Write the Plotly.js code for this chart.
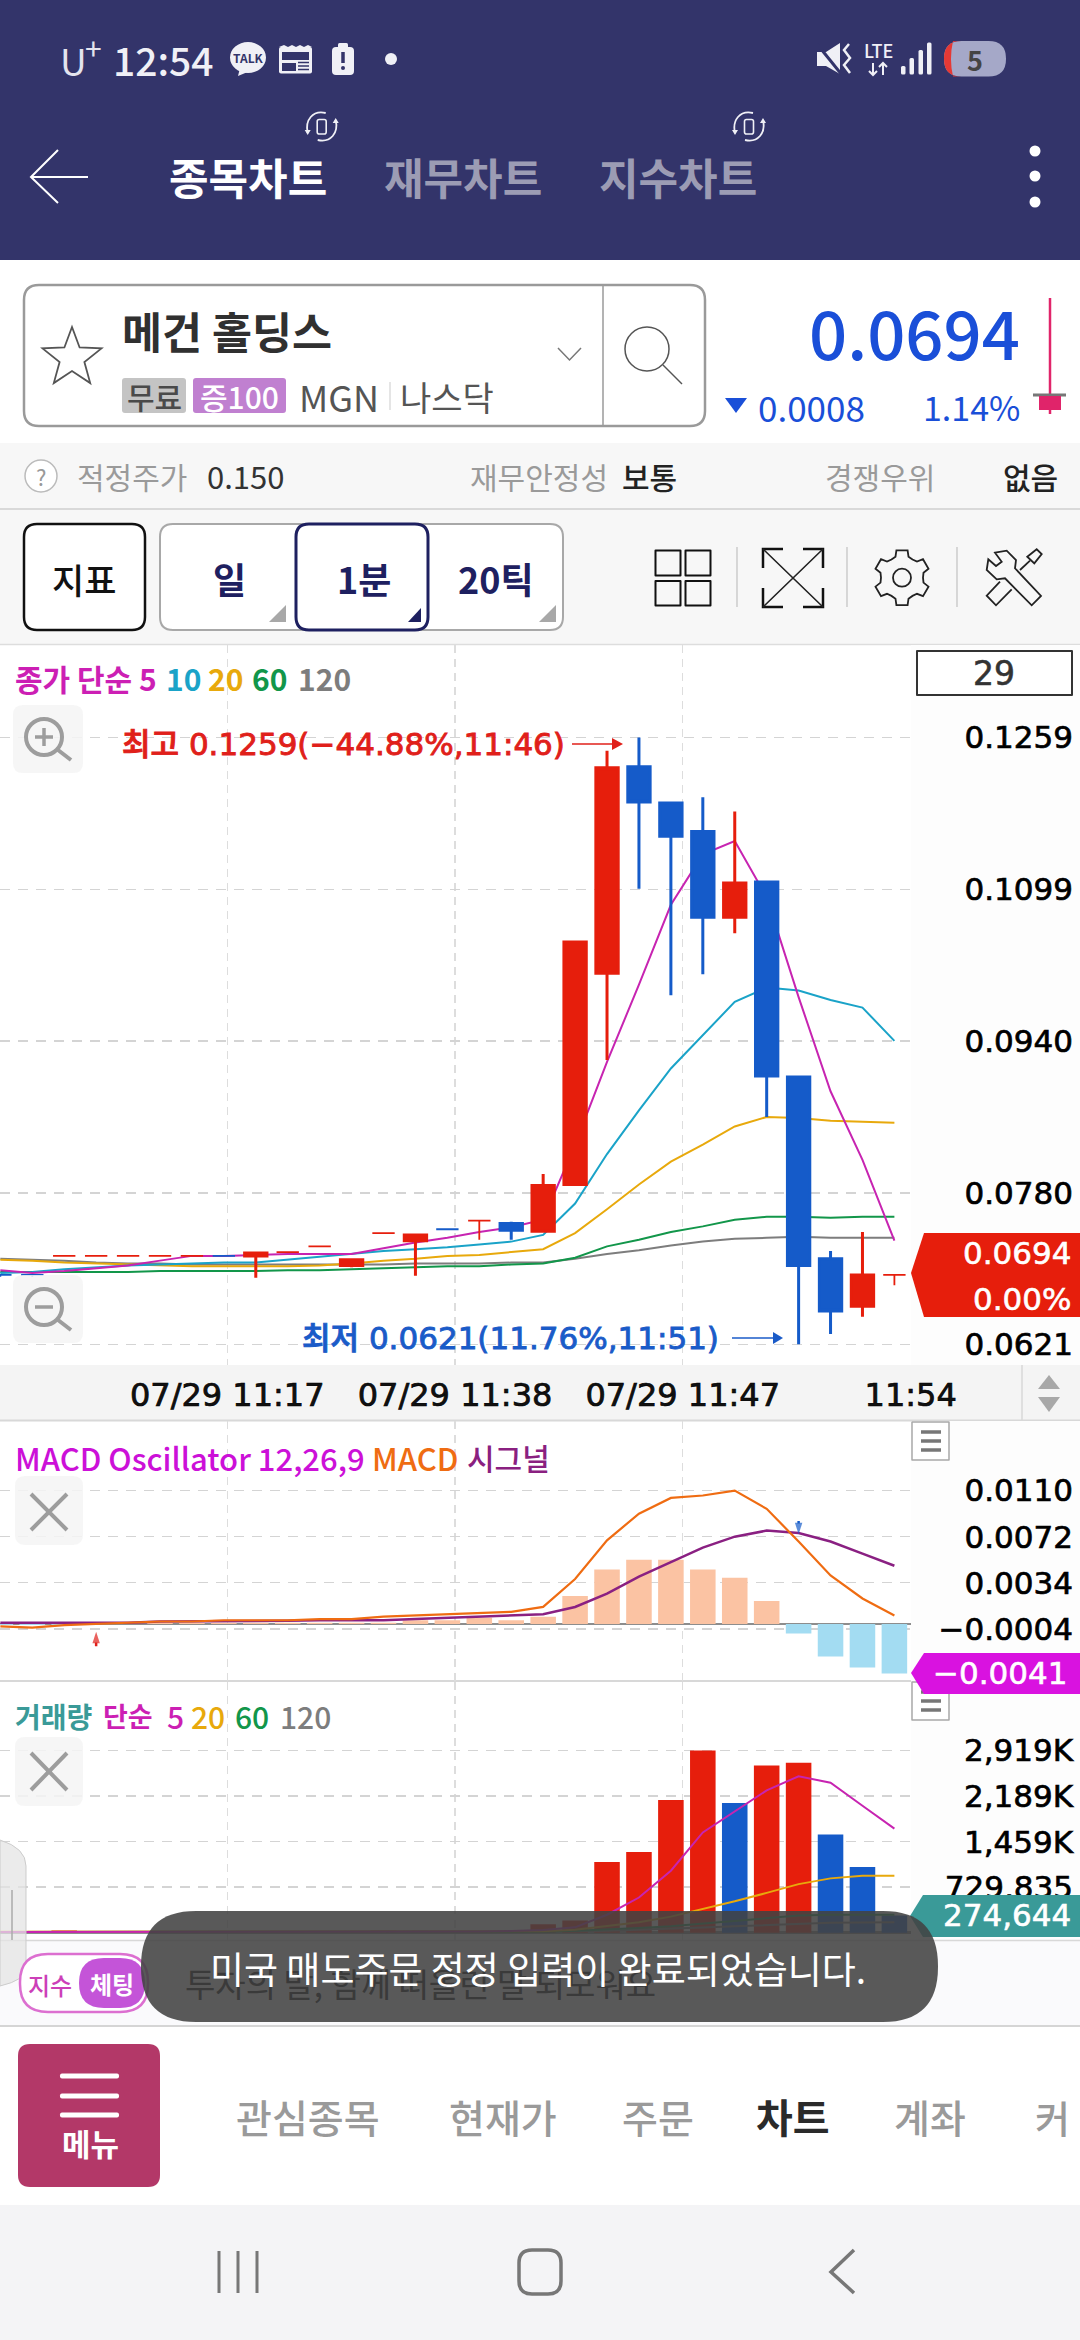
<!DOCTYPE html>
<html><head><meta charset="utf-8">
<script src="https://cdn.plot.ly/plotly-3.0.1.min.js"></script>
<style>html,body{margin:0;padding:0;background:#fff}#c{width:1080px;height:2340px}
[class$="tick"] text{stroke:#000;stroke-width:.7px}</style>
</head><body><div id="c"></div>
<script>
// ---------- data ----------
const idx = [0,1,2,3,4,5,6,7,8,9,10,11,12,13,14,15,16,17,18,19,20,21,22,23,24,25,26,27,28];
const opens = [.0694,.0694,.0714,.0714,.0714,.0714,.0714,.0714,.0714,.0718,.0724,.0704,.0738,.0730,.0742,.0751,.0748,.0740,.0789,.1011,.1228,.1190,.1160,.1070,.1107,.0902,.0711,.0661,.0694];
const highs = [.0694,.0694,.0714,.0714,.0714,.0714,.0714,.0714,.0717,.0718,.0724,.0710,.0738,.0736,.0742,.0751,.0750,.0800,.1045,.1245,.1259,.1190,.1196,.1181,.1107,.0902,.0719,.0739,.0694];
const lows  = [.0692,.0692,.0714,.0714,.0714,.0714,.0714,.0714,.0691,.0718,.0724,.0702,.0738,.0693,.0742,.0731,.0731,.0740,.0789,.0920,.1100,.0988,.1010,.1053,.0860,.0621,.0632,.0650,.0683];
const closes= [.0694,.0694,.0714,.0714,.0714,.0714,.0714,.0714,.0717,.0718,.0724,.0710,.0738,.0736,.0742,.0751,.0741,.0788,.1044,.1227,.1191,.1155,.1070,.1106,.0903,.0704,.0656,.0694,.0694];
const rising= [0,0,1,1,1,1,1,0,1,1,1,1,1,1,0,1,0,1,1,1,0,0,0,1,0,0,0,1,1];
const ma5   = [.0699,.0696,.0698,.0701,.0704,.0709,.0714,.0714,.0715,.0716,.0716,.0716,.0722,.0728,.0733,.0739,.0744,.0752,.0831,.0918,.0999,.1083,.1136,.1150,.1091,.0986,.0887,.0815,.0730];
const ma10  = [.0696,.0697,.0700,.0702,.0704,.0705,.0706,.0707,.0707,.0710,.0713,.0716,.0719,.0721,.0723,.0726,.0729,.0736,.0769,.0821,.0867,.0911,.0946,.0981,.0996,.0993,.0983,.0975,.0940];
const ma20  = [.0710,.0709,.0707,.0706,.0705,.0704,.0703,.0703,.0703,.0703,.0704,.0706,.0709,.0711,.0714,.0715,.0718,.0721,.0738,.0763,.0789,.0813,.0831,.0850,.0860,.0859,.0856,.0855,.0854];
const ma60  = [.0697,.0697,.0697,.0697,.0697,.0698,.0698,.0698,.0698,.0699,.0699,.0700,.0701,.0702,.0703,.0703,.0705,.0706,.0712,.0724,.0731,.0739,.0745,.0752,.0755,.0755,.0754,.0755,.0755];
const ma120 = [.0711,.0710,.0709,.0707,.0706,.0706,.0705,.0705,.0705,.0705,.0705,.0705,.0705,.0706,.0706,.0706,.0707,.0707,.0711,.0716,.0720,.0725,.0729,.0732,.0733,.0734,.0733,.0733,.0733];
const macdOsc = [-.0001,-.0001,-.0001,0,0,.0001,.0001,.0001,.0001,.0001,.0001,.0001,.0001,.0003,.0003,.0005,.0003,.0006,.0023,.0045,.0053,.0053,.0045,.0038,.0019,-.0008,-.0027,-.0036,-.0041];
const macdLine = [-.0002,-.0003,-.0001,0,.0001,.0002,.0002,.0003,.0003,.0003,.0004,.0004,.0006,.0007,.0008,.0009,.0010,.0014,.0037,.0069,.0091,.0104,.0106,.0110,.0095,.0068,.0040,.0021,.0007];
const macdSignal = [.0001,.0001,.0001,.0001,.0001,.0002,.0002,.0002,.0002,.00025,.0003,.0003,.0003,.0004,.0005,.0006,.0007,.0008,.0014,.0025,.0039,.0051,.0063,.0072,.0077,.0075,.0068,.0058,.0048];
const buyArrowX = [3,3], buyArrowY = [-.00185,-.00065];
const sellArrowX = [25,25], sellArrowY = [.0085,.0074];
const volumes = [12000,10000,37000,10000,8000,8000,9000,7000,10000,8000,8000,9000,37000,30000,12000,14000,40000,135000,196000,1134000,1294000,2128000,2919000,2079000,2680000,2723000,1576000,1055000,274644];
const volRising = [1,0,1,0,0,0,1,0,1,0,0,1,1,0,0,1,1,1,1,1,1,1,1,0,1,1,0,0,0];
const volMa5  = [11000,11000,15000,15000,15000,14000,14000,9000,9000,9000,9000,9000,14000,19000,20000,20000,27000,43000,86000,288000,564000,993000,1607000,1944000,2281000,2508000,2404000,2036000,1668000];
const volMa20 = [14000,14000,14000,14000,14000,14000,14000,14000,13000,13000,13000,13000,14000,15000,15000,16000,18000,24000,49000,104000,166000,258000,380000,503000,638000,779000,871000,914000,914000];
const volMa60 = [13000,13000,13000,13000,13000,13000,13000,13000,13000,13000,13000,13000,13000,14000,14000,14000,15000,17000,31000,49000,74000,104000,147000,196000,239000,276000,288000,288000,288000];
const volMa120= [12000,12000,12000,12000,12000,12000,12000,12000,12000,12000,12000,12000,12000,12000,12000,13000,14000,16000,22000,30000,45000,62000,82000,104000,125000,148000,160000,165000,166000];
const priceTicks = [.1259,.1099,.0940,.0780,.0621];
const priceTickText = ['0.1259','0.1099','0.0940','0.0780','0.0621'];
const macdTicks = [.0110,.0072,.0034,-.0004];
const macdTickText = ['0.0110','0.0072','0.0034','−0.0004'];
const volTicks = [2919000,2189000,1459000,729835];
const volTickText = ['2,919K','2,189K','1,459K','729,835'];
const timeTicks = [7.107,14.24,21.37,28.51];
const timeTickText = ['07/29 11:17','07/29 11:38','07/29 11:47','11:54'];

// ---------- helpers ----------
const W=1080,H=2340;
const PX=x=>x/W, PY=y=>1-y/H;
const KR='"Noto Sans CJK KR", sans-serif', DJ='"DejaVu Sans", "Noto Sans CJK KR", sans-serif';
const RED='#e61e0c', BLUE='#155bc9', MAGENTA='#c724b1', CYAN='#1aa3c8', YEL='#e8a90c', GRN='#12964a', GRY='#7d7d7d';
const NAVY='#33346a', ICON='#f0f0f6';
const shapes=[], notes=[];
function path(str){ // pixel-space path => paper coordinates
  let isX=true;
  return str.replace(/-?\d+(\.\d+)?/g,m=>{const v=+m;const o=isX?PX(v):PY(v);isX=!isX;return o.toFixed(6);});
}
function P(d,o={}){shapes.push({type:'path',xref:'paper',yref:'paper',path:path(d),fillcolor:o.fill||'rgba(0,0,0,0)',
  line:{color:o.line||'rgba(0,0,0,0)',width:o.lw===undefined?(o.line?2:0):o.lw},layer:o.layer||'above'});}
function rr(x0,y0,x1,y1,r){return `M${x0+r} ${y0} L${x1-r} ${y0} Q${x1} ${y0} ${x1} ${y0+r} L${x1} ${y1-r} Q${x1} ${y1} ${x1-r} ${y1} L${x0+r} ${y1} Q${x0} ${y1} ${x0} ${y1-r} L${x0} ${y0+r} Q${x0} ${y0} ${x0+r} ${y0} Z`;}
function R(x0,y0,x1,y1,o={}){P(rr(x0,y0,x1,y1,o.r||0.01),o);}
function C(cx,cy,r,o={}){shapes.push({type:'circle',xref:'paper',yref:'paper',x0:PX(cx-r),x1:PX(cx+r),y0:PY(cy+(o.ry||r)),y1:PY(cy-(o.ry||r)),
  fillcolor:o.fill||'rgba(0,0,0,0)',line:{color:o.line||'rgba(0,0,0,0)',width:o.lw===undefined?(o.line?2:0):o.lw},layer:o.layer||'above'});}
function T(text,x,y,size,color,o={}){notes.push({text,x:PX(x),y:PY(y),xref:'paper',yref:'paper',showarrow:false,
  xanchor:o.a||'left',yanchor:'middle',borderpad:0,borderwidth:0,
  font:{family:o.f||KR,size,color,weight:o.w||400}});}

// ---------- backgrounds (under the traces) ----------
const B={layer:'below'};
R(0,0,1080,260,{fill:NAVY,...B});
R(0,260,1080,443,{fill:'#ffffff',...B});
R(0,443,1080,644,{fill:'#f7f7f7',...B});
P('M0 509 L1080 509',{line:'#cfcfcf',lw:1.5,...B});
P('M0 644.5 L1080 644.5',{line:'#dddddd',lw:1.5,...B});
R(911,645,1080,1365,{fill:'#fdfdfd',...B});
R(0,1365,1080,1420,{fill:'#f4f4f4',...B});
P('M0 1420.5 L1080 1420.5',{line:'#d8d8d8',lw:2,...B});
R(911,1421,1080,1940,{fill:'#fdfdfd',...B});
P('M0 1681 L911 1681',{line:'#d8d8d8',lw:2,...B});
R(0,1940,1080,2026,{fill:'#fafafc',...B});
P('M0 1940.5 L1080 1940.5',{line:'#d8d8d8',lw:1.5,...B});
P('M0 2026 L1080 2026',{line:'#d5d5d5',lw:2,...B});
R(0,2027,1080,2205,{fill:'#ffffff',...B});
R(0,2205,1080,2340,{fill:'#f4f4f6',...B});

// ---------- status bar ----------
T('U',60,60,37,'#e4e4ee');
T('+',85,47,30,'#e4e4ee');
T('12:54',113,59,39,ICON,{w:500});
C(248,57.5,18,{fill:ICON,ry:15.5}); P('M240 68 L238 76 L250 71 Z',{fill:ICON});
T('TALK',248,57.5,12,NAVY,{a:'center',w:700});
R(279,47,312,73.5,{fill:ICON,r:2});
P('M279 47 L284 45 L288 47 L292 45 L296 47 L300 45 L304 47 L308 45 L312 47 Z',{fill:ICON});
R(282,52,309,60,{fill:NAVY}); R(282,63,296,71,{fill:NAVY});
P('M298 62.5 L309 62.5 M298 66 L309 66 M298 69.5 L309 69.5',{line:NAVY,lw:1.5});
R(332,47,354,75,{fill:ICON,r:4}); R(338,43,348,48,{fill:ICON,r:1.5});
P('M343 52 L343 63',{line:NAVY,lw:3.5}); C(343,68,2,{fill:NAVY});
C(391,59,6,{fill:ICON});
P('M817 52 L826 52 L840 43 L840 74 L826 66 L817 66 Z',{fill:ICON});
P('M817 44 L842 75',{line:NAVY,lw:3});
P('M849 44 L844 50 L850 58 L844 65 L850 73',{line:ICON,lw:2.5});
T('LTE',878.5,50,18,ICON,{a:'center',w:500});
P('M873 63 L873 75 M869 71 L873 75 L877 71 M883 75 L883 63 M879 67 L883 63 L887 67',{line:ICON,lw:2});
R(901,66,905.5,74.5,{fill:ICON,r:1.5}); R(909.5,58,914,74.5,{fill:ICON,r:1.5}); R(918.5,50,923,74.5,{fill:ICON,r:1.5}); R(927,42.5,931.5,74.5,{fill:ICON,r:1.5});
R(944,41,1006,76.5,{fill:'#a5a8c8',r:17.5});
P('M961 41 Q944 41 944 58.7 Q944 76.5 961 76.5 L953 76.5 Q949 58.7 953 41 Z',{fill:'#e53935'});
T('5',975,59,27,'#444444',{a:'center',w:700});

// ---------- title bar ----------
P('M88 177 L31 177 M58 150 L31 177 L58 203',{line:'#ffffff',lw:2});
T('종목차트',169,176,43,'#ffffff',{w:700});
T('재무차트',384,176,43,'#9c9cb4',{w:700});
T('지수차트',599,176,43,'#9c9cb4',{w:700});
[321.7,749].forEach(x=>{
  R(x-4.5,119.5,x+4.5,134,{line:ICON,lw:1.6,r:2});
  P(`M${x+4} 113 C${x-9} 110 ${x-17} 120 ${x-14} 133 M${x-4} 140 C${x+9} 143 ${x+17} 133 ${x+14} 120`,{line:ICON,lw:1.8});
  P(`M${x-17} 130 L${x-11} 130 L${x-14} 135 Z M${x+11} 123 L${x+17} 123 L${x+14} 118 Z`,{fill:ICON});
});
[151,176,202].forEach(y=>C(1035,y,5.5,{fill:'#ffffff'}));

// ---------- symbol box ----------
R(24,285,705,426,{fill:'#ffffff',line:'#9a9a9a',lw:2.5,r:15,layer:'below'});
P('M603 286 L603 425',{line:'#9a9a9a',lw:1.5});
(function(){let s='',cx=72,cy=358;for(let i=0;i<10;i++){const r=i%2?13:31,a=-Math.PI/2+i*Math.PI/5;
  s+=(i?'L':'M')+(cx+r*Math.cos(a)).toFixed(1)+' '+(cy+r*Math.sin(a)).toFixed(1)+' ';}P(s+'Z',{line:'#555555',lw:1.8});})();
T('메건 홀딩스',122,331,43.5,'#303030',{w:700});
R(122,378,186,413,{fill:'#c4c4c4',r:3}); T('무료',154,396,30,'#4a4a4a',{a:'center',w:500});
R(193,378,286,413,{fill:'#c080d0',r:3}); T('증100',239.5,396,30,'#ffffff',{a:'center',w:500});
T('MGN',299,396,36,'#555555');
P('M390 382 L390 410',{line:'#dddddd',lw:1.5});
T('나스닥',400,396,34,'#555555');
P('M558 348 L569.5 360 L581 348',{line:'#777777',lw:1.5});
C(647,349,22,{line:'#555555',lw:1.5}); P('M663 365 L682 384',{line:'#555555',lw:1.5});
T('0.0694',1020,331,67,'#1a4fd8',{a:'right',w:500});
P('M725 398 L747 398 L736 413 Z',{fill:'#1a4fd8'});
T('0.0008',758,406,35,'#1a4fd8');
T('1.14%',1020,406,34,'#1a4fd8',{a:'right'});
P('M1050 298 L1050 395',{line:'#e0246a',lw:2.5});
P('M1033 395 L1066 395',{line:'#777777',lw:3});
R(1039,396,1061,410,{fill:'#e0246a'});
P('M1050 410 L1050 414',{line:'#e0246a',lw:2.5});

// ---------- valuation row ----------
C(41,476,16,{line:'#bbbbbb',lw:1.5,fill:'#ffffff'});
T('?',41,476,22,'#999999',{a:'center'});
T('적정주가',77,476,30,'#9a9a9a');
T('0.150',207,476,31,'#333333');
T('재무안정성',470,476,30,'#9a9a9a');
T('보통',622,476,30,'#222222',{w:500});
T('경쟁우위',825,476,30,'#9a9a9a');
T('없음',1003,476,30,'#222222',{w:500});

// ---------- toolbar ----------
R(24,524,145,630,{fill:'#ffffff',line:'#111111',lw:2.5,r:13});
R(160,524,563,630,{fill:'#ffffff',line:'#a8a8a8',lw:2,r:13});
R(296,524,428,630,{fill:'#ffffff',line:'#1e2060',lw:3,r:13});
T('지표',84,578,35,'#111111',{a:'center',w:500});
T('일',229,578,36,'#1e2060',{a:'center',w:700});
T('1분',364,578,36,'#1e2060',{a:'center',w:700});
T('20틱',496,578,36,'#1e2060',{a:'center',w:700});
P('M286 605 L286 622 L269 622 Z',{fill:'#a8a8a8'});
P('M421 608 L421 622 L408 622 Z',{fill:'#1e2060'});
P('M556 605 L556 622 L539 622 Z',{fill:'#a8a8a8'});
[[655.5,680.5],[685.5,710.5]].forEach(v=>{R(v[0],550.5,v[1],575.5,{line:'#111111',lw:2});R(v[0],581,v[1],605.5,{line:'#111111',lw:2});});
P('M737 547 L737 607 M847 547 L847 607 M957 547 L957 607',{line:'#cccccc',lw:1.5});
P('M763 568 L763 549 L783 549 M803 549 L823 549 L823 568 M763 588 L763 607 L783 607 M803 607 L823 607 L823 588',{line:'#111111',lw:2.5});
P('M763 549 L823 607 M823 549 L763 607',{line:'#222222',lw:1.6});
(function(){let s='',cx=902,cy=577.7;const n=6;for(let i=0;i<n;i++){const a=i*2*Math.PI/n-Math.PI/2,t=.2;
  [[22,a-.3],[28,a-t],[28,a+t],[22,a+.3],[21,a+Math.PI/n]].forEach((q,j)=>{s+=((i||j)?'L':'M')+(cx+q[0]*Math.cos(q[1])).toFixed(1)+' '+(cy+q[0]*Math.sin(q[1])).toFixed(1)+' ';});}
  P(s+'Z',{line:'#222222',lw:1.8});C(cx,cy,9,{line:'#222222',lw:1.8});})();
P('M995 552.7 L1006.7 550.7 L1016 560 L1015 568.3 L1041 596 L1031.7 605.3 L1005 578.3 L996.7 579.3 L986.7 570 L988.3 559.3 L996 566 L1001.7 561.7 Z',{line:'#222222',lw:1.8});
P('M1000 581.7 L986.7 595.7 L996 605.3 L1011.7 589.3',{line:'#222222',lw:1.8});
P('M1020 570 L1030 560.7',{line:'#222222',lw:1.8});
P('M1027.3 556.7 L1036.7 549.3 L1041.7 554 L1034.3 563.3 Z',{line:'#222222',lw:1.8});

// ---------- main pane overlays ----------
T('종가 단순',15,678,30,'#cc1fb4',{w:700});
T('5',139,678,30,'#cc1fb4',{w:700});
T('10',166,678,30,CYAN,{w:700});
T('20',208,678,30,YEL,{w:700});
T('60',252,678,30,GRN,{w:700});
T('120',298,678,30,GRY,{w:700});
[[705,773,'+'],[1275,1343,'-']].forEach(v=>{
  R(13,v[0],83,v[1],{fill:'rgba(245,245,245,0.85)',r:10});
  const cy=v[0]+32;
  C(44,cy,18,{line:'#9d9d9d',lw:4});
  P(`M58 ${cy+13} L71 ${cy+23}`,{line:'#9d9d9d',lw:4});
  P(`M35 ${cy} L53 ${cy}`,{line:'#9d9d9d',lw:3.5});
  if(v[2]==='+')P(`M44 ${cy-9} L44 ${cy+9}`,{line:'#9d9d9d',lw:3.5});
});
R(917,651,1072,695,{fill:'#ffffff',line:'#333333',lw:2});
T('29',994,673,33,'#333333',{a:'center',f:DJ});
T('최고 0.1259(−44.88%,11:46)',122,744,31,'#e0201a',{f:DJ,w:500});
P('M572 744 L618 744',{line:'#e0201a',lw:1.5}); P('M612 738 L623 744 L612 750 Z',{fill:'#e0201a'});
T('최저 0.0621(11.76%,11:51)',302,1338,31,'#1a5bc8',{f:DJ,w:500});
P('M732 1338 L778 1338',{line:'#1a5bc8',lw:1.5}); P('M773 1332 L783 1338 L773 1344 Z',{fill:'#1a5bc8'});
P('M911 1273 L924 1233 L1080 1233 L1080 1317 L924 1317 Z',{fill:RED});
T('0.0694',1071,1253,31,'#ffffff',{a:'right',f:DJ});
T('0.00%',1071,1299,31,'#ffffff',{a:'right',f:DJ});
P('M1022 1365 L1022 1420',{line:'#d8d8d8',lw:1.5});
P('M1049 1375 L1060 1389 L1038 1389 Z',{fill:'#a8a8a8'});
P('M1038 1397 L1060 1397 L1049 1412 Z',{fill:'#a8a8a8'});

// ---------- MACD / volume overlays ----------
T('MACD Oscillator 12,26,9',15,1457,31,'#cc10d8',{w:500});
T('MACD',372,1457,31,'#ef6c12',{w:500});
T('시그널',467,1457,30,'#8a2080',{w:500});
T('거래량',15,1716,28,'#3a9a98',{w:700});
T('단순',103,1716,27,'#cc1fb4',{w:700});
T('5',167,1716,30,'#cc1fb4',{w:500});
T('20',191,1716,30,YEL,{w:500});
T('60',235,1716,30,GRN,{w:500});
T('120',280,1716,30,GRY,{w:500});
[[1476,1545,1494,1530],[1737,1806,1753,1790]].forEach(v=>{
  R(15,v[0],83,v[1],{fill:'rgba(245,245,245,0.85)',r:10});
  P(`M31 ${v[2]} L67 ${v[3]} M67 ${v[2]} L31 ${v[3]}`,{line:'#9d9d9d',lw:4});
});
[[1422,1460,[1432,1441,1450]],[1682,1720,[1692,1701,1710]]].forEach(v=>{
  R(912,v[0],949,v[1],{fill:'#ffffff',line:'#a8a8a8',lw:1.5});
  v[2].forEach(y=>P(`M921 ${y} L941 ${y}`,{line:'#777777',lw:3.5}));
});
P('M911 1673 L924 1653 L1080 1653 L1080 1694 L924 1694 Z',{fill:'#d912e0'});
T('−0.0041',1067,1673,31,'#ffffff',{a:'right',f:DJ});
P('M910 1916 L923 1895 L1080 1895 L1080 1937 L923 1937 Z',{fill:'#3a9a98'});
T('274,644',1071,1915,31,'#ffffff',{a:'right',f:DJ});

// ---------- side tab, chat strip, toast ----------
P('M0 1840 Q26 1848 26 1866 L26 1968 Q26 1980 0 1986 Z',{fill:'rgba(228,228,228,0.75)',line:'#cccccc',lw:1});
P('M12 1890 L12 1940',{line:'#aaaaaa',lw:1.5});
R(20,1954,148,2012,{fill:'#ffffff',line:'#dc6fd0',lw:2.5,r:28});
R(79,1958,145,2008,{fill:'#c454d8',r:25});
T('지수',50,1984,24,'#cc3fb8',{a:'center',w:500});
T('체팅',112,1983,24,'#ffffff',{a:'center',w:700});
R(141,1911,938,2022,{fill:'rgba(66,66,66,0.88)',r:55});
T('투자의 말, 함께 떠올린 말 되모워요',185,1983,33,'#3a3a3a');
T('미국 매도주문 정정 입력이 완료되었습니다.',210,1968,37,'#ffffff');

// ---------- bottom navigation ----------
R(18,2044,160,2187,{fill:'#b33868',r:12});
[2076,2096,2115].forEach(y=>R(60,y-2.5,119,y+2.5,{fill:'#ffffff',r:2}));
T('메뉴',90,2142,31,'#ffffff',{a:'center',w:700});
T('관심종목',308,2116,39,'#9a9a9a',{a:'center',w:500});
T('현재가',503,2116,39,'#9a9a9a',{a:'center',w:500});
T('주문',658,2116,39,'#9a9a9a',{a:'center',w:500});
T('차트',793,2116,40,'#2a2a2a',{a:'center',w:700});
T('계좌',930,2116,39,'#9a9a9a',{a:'center',w:500});
T('커',1035,2116,38,'#9a9a9a',{w:500});
P('M219 2251 L219 2293 M238 2251 L238 2293 M257 2251 L257 2293',{line:'#777777',lw:3});
R(519,2250,561,2294,{line:'#777777',lw:3.5,r:13});
P('M854 2250 L831 2272 L854 2293',{line:'#777777',lw:3.5});

// ---------- traces ----------
function ma(y,color,xa,ya,w){return {type:'scatter',mode:'lines',x:idx,y,xaxis:xa,yaxis:ya,line:{color,width:w||2},hoverinfo:'skip',showlegend:false};}
function candles(up,flat,color,w){
  const keep=(_,i)=>rising[i]===up && (opens[i]===closes[i])===flat;
  return {type:'candlestick',xaxis:'x',yaxis:'y4',x:idx.filter(keep),open:opens.filter(keep),high:highs.filter(keep),low:lows.filter(keep),close:closes.filter(keep),
  increasing:{line:{color,width:w},fillcolor:color},decreasing:{line:{color,width:w},fillcolor:color},whiskerwidth:0,hoverinfo:'skip',showlegend:false};}
function signalArrow(x,y,color){return {type:'scatter',mode:'lines+markers',x,y,xaxis:'x2',yaxis:'y2',line:{color,width:2.5},
  marker:{symbol:'arrow',angleref:'previous',size:[0,12],color,line:{width:0}},hoverinfo:'skip',showlegend:false};}
const traces=[
  ma(ma120,GRY,'x','y'),ma(ma60,GRN,'x','y'),ma(ma20,YEL,'x','y'),ma(ma10,CYAN,'x','y'),ma(ma5,MAGENTA,'x','y'),
  candles(1,false,RED,3),candles(0,false,BLUE,3),candles(1,true,RED,1.8),candles(0,true,BLUE,1.8),
  {type:'bar',x:idx,y:macdOsc,xaxis:'x2',yaxis:'y2',width:.8,marker:{color:macdOsc.map(v=>v>=0?'#fbc3a3':'#a3dcf2'),line:{width:0}},hoverinfo:'skip',showlegend:false},
  ma(macdSignal,'#8a2082','x2','y2',2.5),ma(macdLine,'#ef6c12','x2','y2',2.2),
  signalArrow(buyArrowX,buyArrowY,'#e0201a'),signalArrow(sellArrowX,sellArrowY,BLUE),
  {type:'bar',x:idx,y:volumes,xaxis:'x3',yaxis:'y3',width:.8,marker:{color:volRising.map(v=>v?RED:BLUE),line:{width:0}},hoverinfo:'skip',showlegend:false},
  ma(volMa120,GRY,'x3','y3'),ma(volMa60,GRN,'x3','y3'),ma(volMa20,YEL,'x3','y3'),ma(volMa5,MAGENTA,'x3','y3')
];

// ---------- axes ----------
const dom=(top,bot)=>[1-bot/H,1-top/H];
const xRange=[-.011,28.52], xDom=[0,911/W];
const vGrid={showgrid:true,gridcolor:'#dddddd',griddash:'8px,6px',gridwidth:1.5,zeroline:false,showline:false};
const hGrid={showgrid:true,gridcolor:'#d4d4d4',griddash:'10px,8px',gridwidth:1.5,showline:false,ticks:'',
  side:'left',anchor:'free',position:1073/W,automargin:false,tickfont:{family:DJ,size:31,color:'#000000'},tickmode:'array',fixedrange:true};
const layout={width:W,height:H,margin:{l:0,r:0,t:0,b:0},paper_bgcolor:'#ffffff',plot_bgcolor:'rgba(0,0,0,0)',showlegend:false,hovermode:false,
  bargap:.2,boxgap:.3,boxgroupgap:0,boxmode:'overlay',
  xaxis:{...vGrid,domain:xDom,range:xRange,anchor:'y',tickmode:'array',tickvals:timeTicks,ticktext:timeTickText,ticks:'outside',ticklen:2,tickcolor:'rgba(0,0,0,0)',
    tickfont:{family:DJ,size:32,color:'#111111'},tickangle:0,rangeslider:{visible:false},automargin:false},
  xaxis2:{...vGrid,domain:xDom,range:xRange,anchor:'y2',tickmode:'array',tickvals:timeTicks.slice(0,3),showticklabels:false,automargin:false},
  xaxis3:{...vGrid,domain:xDom,range:xRange,anchor:'y3',tickmode:'array',tickvals:timeTicks.slice(0,3),showticklabels:false,automargin:false},
  yaxis:{...hGrid,domain:dom(645,1365),range:[.05993,.13561],tickvals:priceTicks,ticktext:priceTickText,zeroline:false},
  yaxis4:{overlaying:'y',range:[.05993,.13561],visible:false,fixedrange:true,anchor:'x'},
  yaxis2:{...hGrid,domain:dom(1421,1680.5),range:[-.004672,.016748],tickvals:macdTicks,ticktext:macdTickText,zeroline:true,zerolinecolor:'#8d8d8d',zerolinewidth:2},
  yaxis3:{...hGrid,domain:dom(1682,1939.6),range:[-110600,4019000],tickvals:volTicks,ticktext:volTickText,zeroline:true,zerolinecolor:'#8d8d8d',zerolinewidth:3},
  shapes,annotations:notes};
Plotly.newPlot('c',traces,layout,{staticPlot:true,displayModeBar:false,responsive:false}).then(()=>{
  document.querySelectorAll('text.annotation-text').forEach(el=>{
    const s=el.style;
    if(s.fontFamily.includes('DejaVu')){s.stroke=s.fill;s.strokeWidth=String(s.fontWeight)==='500'?'.9px':'.6px';}
  });
});
</script></body></html>
